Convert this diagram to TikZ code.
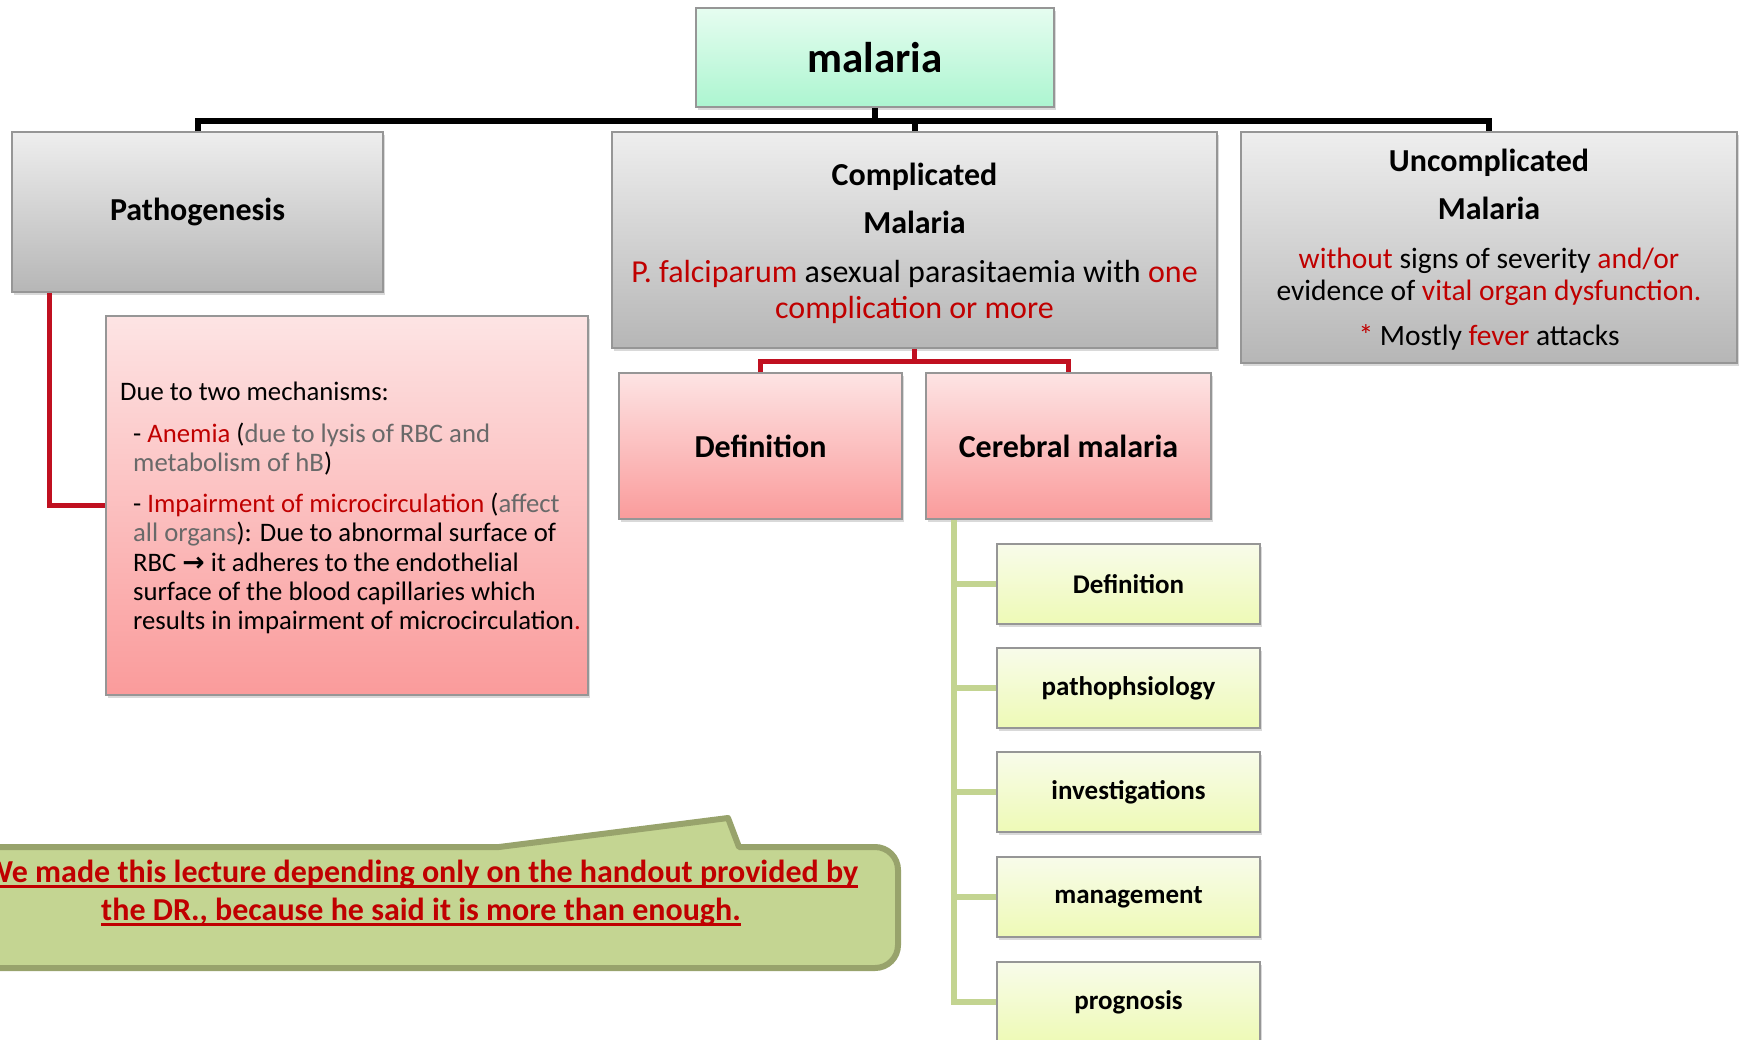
\documentclass[tikz,border=0pt]{standalone}
\usepackage{fontspec}
\setmainfont{Carlito}
\newfontfamily\symfont{DejaVu Sans}
\usetikzlibrary{shadows}
\definecolor{txtred}{RGB}{192,0,0}
\definecolor{txtgray}{RGB}{105,105,105}
\definecolor{mintT}{RGB}{230,253,240}
\definecolor{mintB}{RGB}{172,245,208}
\definecolor{grayT}{RGB}{238,238,238}
\definecolor{grayB}{RGB}{182,182,182}
\definecolor{pinkT}{RGB}{253,228,228}
\definecolor{pinkB}{RGB}{250,155,155}
\definecolor{limeT}{RGB}{248,251,234}
\definecolor{limeB}{RGB}{238,250,182}
\definecolor{edge}{RGB}{150,150,150}
\definecolor{notefill}{RGB}{196,213,146}
\definecolor{noteedge}{RGB}{152,163,108}
\definecolor{redline}{RGB}{192,16,32}
\definecolor{greenline}{RGB}{195,212,145}
\newcommand\redul[1]{\setbox0\hbox{#1}\rlap{\rule[-5pt]{\wd0}{2.5pt}}\box0}
\begin{document}
\begin{tikzpicture}[x=1pt,y=-1pt,
  bx/.style={draw=edge, line width=1.5pt, inner sep=0pt, align=center,
    drop shadow={shadow xshift=2pt, shadow yshift=-3pt, opacity=0.3}},
  mintbox/.style={bx, top color=mintT, bottom color=mintB},
  graybox/.style={bx, top color=grayT, bottom color=grayB},
  pinkbox/.style={bx, top color=pinkT, bottom color=pinkB},
  limebox/.style={bx, top color=limeT, bottom color=limeB},
  blk/.style={line width=6pt, draw=black},
  redc/.style={line width=5pt, draw=redline},
  grn/.style={line width=6pt, draw=greenline},
  title/.style={font=\bfseries\fontsize{32}{38}\selectfont}
]
\useasboundingbox (0,0) rectangle (1744,1039);
\clip (0,0) rectangle (1744,1039);

% callout note
\draw[line width=6pt, draw=noteedge, fill=notefill, line join=round]
  (-40,847) -- (499,847) -- (728,818) -- (739,847) -- (875,847)
  to[out=0,in=90] (898,870) -- (898,945) to[out=-90,in=0] (875,968)
  -- (-40,968) -- cycle;
\node[font=\bfseries\fontsize{32}{38}\selectfont, text=txtred, align=center, inner sep=0pt] (note) at (421,893)
  {\redul{We made this lecture depending only on the handout provided by}\\\redul{the DR., because he said it is more than enough.}};

% boxes
\node[mintbox, minimum width=358pt, minimum height=99pt, font=\bfseries\fontsize{43}{50}\selectfont] (malaria) at (875,57.5) {malaria};
\node[graybox, minimum width=371pt, minimum height=160pt, title] (path) at (197.5,212) {\raisebox{-2pt}{Pathogenesis}};
\node[graybox, minimum width=605pt, minimum height=216pt] (comp) at (914.5,240) {};
\node[align=center, inner sep=0pt, font=\fontsize{32}{36}\selectfont] (comptext) at ([yshift=-3pt]comp.center)
  {{\bfseries Complicated}\\[12pt]{\bfseries Malaria}\\[13pt]\textcolor{txtred}{P. falciparum} asexual parasitaemia with \textcolor{txtred}{one}\\\textcolor{txtred}{complication or more}};
\node[graybox, minimum width=496pt, minimum height=231pt] (uncomp) at (1489,247.5) {};
\node[align=center, inner sep=0pt, font=\fontsize{29.5}{32}\selectfont] (uncomptext) at ([yshift=-2.5pt]uncomp.center)
  {{\bfseries\fontsize{32}{32}\selectfont Uncomplicated}\\[16pt]{\bfseries\fontsize{32}{32}\selectfont Malaria}\\[17pt]\textcolor{txtred}{without} signs of severity \textcolor{txtred}{and/or}\\evidence of \textcolor{txtred}{vital organ dysfunction.}\\[13pt]\textcolor{txtred}{*} Mostly \textcolor{txtred}{fever} attacks};
\node[pinkbox, minimum width=482pt, minimum height=379pt] (desc) at (347,505.5) {};
\node[anchor=north west, align=left, inner sep=0pt, font=\fontsize{26.7}{29.3}\selectfont] (desctext) at (133,382)
  {\hspace*{-13pt}Due to two mechanisms:\\[12pt]- \textcolor{txtred}{Anemia} (\textcolor{txtgray}{due to lysis of RBC and}\\\textcolor{txtgray}{metabolism of hB})\\[12pt]- \textcolor{txtred}{Impairment of microcirculation} (\textcolor{txtgray}{affect}\\\textcolor{txtgray}{all organs}): Due to abnormal surface of\\RBC {\symfont\bfseries →} it adheres to the endothelial\\surface of the blood capillaries which\\results in impairment of microcirculation\textcolor{txtred}{.}};
\node[pinkbox, minimum width=283pt, minimum height=146pt, title] (def) at (760.5,446) {Definition};
\node[pinkbox, minimum width=285pt, minimum height=146pt, title] (cereb) at (1068.5,446) {Cerebral malaria};
\foreach \n/\y/\t in {g1/584/Definition, g2/688/pathophsiology, g3/792/investigations, g4/897/management, g5/1002/prognosis}
  \node[limebox, minimum width=263pt, minimum height=80pt, font=\bfseries\fontsize{27}{31}\selectfont] (\n) at (1128.5,\y) {\t};

% connectors
\coordinate (bus) at (875,121);
\draw[blk] (malaria.south) -- (malaria.south |- bus);
\draw[blk] (path.north) |- (uncomp.north |- bus) -- (uncomp.north);
\draw[blk] (comp.north) -- (comp.north |- bus);
\draw[redc] ([xshift=38pt]path.south west) |- (desc.west);
\coordinate (rb) at ([yshift=-13pt]comp.south);
\draw[redc] (comp.south) -- (rb);
\draw[redc] (def.north) |- (cereb.north |- rb) -- (cereb.north);
\coordinate (trunk) at ([xshift=29pt]cereb.south west);
\draw[grn] (trunk) |- (g5.west);
\foreach \n in {g1,g2,g3,g4}
  \draw[grn] (\n.west -| trunk) -- (\n.west);
\end{tikzpicture}
\end{document}
